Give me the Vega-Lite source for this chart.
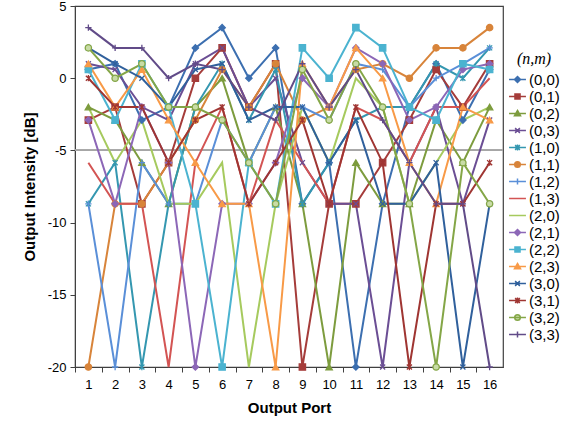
{
  "$schema": "https://vega.github.io/schema/vega-lite/v6.json",
  "width": 428,
  "height": 361,
  "autosize": {"type": "none"},
  "padding": {"left": 75, "top": 6, "right": 74, "bottom": 61},
  "background": "white",
  "config": {
    "font": "Liberation Sans",
    "view": {"stroke": "#404040", "strokeWidth": 1.2},
    "axis": {"domainColor": "#404040", "tickColor": "#404040", "labelColor": "#000", "titleColor": "#000", "labelFontSize": 13, "titleFontSize": 15, "titleFontWeight": "bold", "grid": false}
  },
  "data": {"values": [
{"s":"(0,0)","p":1,"v":0.6},{"s":"(0,0)","p":2,"v":1.0},{"s":"(0,0)","p":3,"v":-2.9},{"s":"(0,0)","p":4,"v":-2.0},{"s":"(0,0)","p":5,"v":2.1},{"s":"(0,0)","p":6,"v":3.5},{"s":"(0,0)","p":7,"v":0},{"s":"(0,0)","p":8,"v":2.1},{"s":"(0,0)","p":9,"v":-8.7},{"s":"(0,0)","p":10,"v":-5.85},{"s":"(0,0)","p":11,"v":-20},{"s":"(0,0)","p":12,"v":-8.7},{"s":"(0,0)","p":13,"v":-2.0},{"s":"(0,0)","p":14,"v":1.0},{"s":"(0,0)","p":15,"v":-2.9},{"s":"(0,0)","p":16,"v":0.6},
{"s":"(0,1)","p":1,"v":-2.9},{"s":"(0,1)","p":2,"v":-2.0},{"s":"(0,1)","p":3,"v":-8.7},{"s":"(0,1)","p":4,"v":-5.85},{"s":"(0,1)","p":5,"v":0},{"s":"(0,1)","p":6,"v":2.1},{"s":"(0,1)","p":7,"v":-2.0},{"s":"(0,1)","p":8,"v":1.0},{"s":"(0,1)","p":9,"v":-20},{"s":"(0,1)","p":10,"v":-8.7},{"s":"(0,1)","p":11,"v":-8.7},{"s":"(0,1)","p":12,"v":-5.85},{"s":"(0,1)","p":13,"v":-2.9},{"s":"(0,1)","p":14,"v":0.6},{"s":"(0,1)","p":15,"v":-2.0},{"s":"(0,1)","p":16,"v":1.0},
{"s":"(0,2)","p":1,"v":-2.0},{"s":"(0,2)","p":2,"v":-2.9},{"s":"(0,2)","p":3,"v":-5.85},{"s":"(0,2)","p":4,"v":-8.7},{"s":"(0,2)","p":5,"v":-2.0},{"s":"(0,2)","p":6,"v":0},{"s":"(0,2)","p":7,"v":-5.85},{"s":"(0,2)","p":8,"v":-2.0},{"s":"(0,2)","p":9,"v":-8.7},{"s":"(0,2)","p":10,"v":-20},{"s":"(0,2)","p":11,"v":-5.85},{"s":"(0,2)","p":12,"v":-8.7},{"s":"(0,2)","p":13,"v":-8.7},{"s":"(0,2)","p":14,"v":-2.9},{"s":"(0,2)","p":15,"v":-5.85},{"s":"(0,2)","p":16,"v":-2.0},
{"s":"(0,3)","p":1,"v":1.0},{"s":"(0,3)","p":2,"v":0.6},{"s":"(0,3)","p":3,"v":-2.0},{"s":"(0,3)","p":4,"v":-2.9},{"s":"(0,3)","p":5,"v":1.0},{"s":"(0,3)","p":6,"v":2.1},{"s":"(0,3)","p":7,"v":-2.0},{"s":"(0,3)","p":8,"v":0},{"s":"(0,3)","p":9,"v":-5.85},{"s":"(0,3)","p":10,"v":-8.7},{"s":"(0,3)","p":11,"v":-8.7},{"s":"(0,3)","p":12,"v":-20},{"s":"(0,3)","p":13,"v":-5.85},{"s":"(0,3)","p":14,"v":-2.0},{"s":"(0,3)","p":15,"v":-8.7},{"s":"(0,3)","p":16,"v":-2.9},
{"s":"(1,0)","p":1,"v":-8.7},{"s":"(1,0)","p":2,"v":-5.85},{"s":"(1,0)","p":3,"v":-20},{"s":"(1,0)","p":4,"v":-8.7},{"s":"(1,0)","p":5,"v":-2.0},{"s":"(1,0)","p":6,"v":1.0},{"s":"(1,0)","p":7,"v":-2.9},{"s":"(1,0)","p":8,"v":0.6},{"s":"(1,0)","p":9,"v":-8.7},{"s":"(1,0)","p":10,"v":-5.85},{"s":"(1,0)","p":11,"v":-2.9},{"s":"(1,0)","p":12,"v":-2.0},{"s":"(1,0)","p":13,"v":-2.0},{"s":"(1,0)","p":14,"v":1.0},{"s":"(1,0)","p":15,"v":0},{"s":"(1,0)","p":16,"v":2.1},
{"s":"(1,1)","p":1,"v":-20},{"s":"(1,1)","p":2,"v":-8.7},{"s":"(1,1)","p":3,"v":-8.7},{"s":"(1,1)","p":4,"v":-5.85},{"s":"(1,1)","p":5,"v":-2.9},{"s":"(1,1)","p":6,"v":0.6},{"s":"(1,1)","p":7,"v":-2.0},{"s":"(1,1)","p":8,"v":1.0},{"s":"(1,1)","p":9,"v":-2.9},{"s":"(1,1)","p":10,"v":-2.0},{"s":"(1,1)","p":11,"v":0.6},{"s":"(1,1)","p":12,"v":1.0},{"s":"(1,1)","p":13,"v":0},{"s":"(1,1)","p":14,"v":2.1},{"s":"(1,1)","p":15,"v":2.1},{"s":"(1,1)","p":16,"v":3.5},
{"s":"(1,2)","p":1,"v":-8.7},{"s":"(1,2)","p":2,"v":-20},{"s":"(1,2)","p":3,"v":-5.85},{"s":"(1,2)","p":4,"v":-8.7},{"s":"(1,2)","p":5,"v":-8.7},{"s":"(1,2)","p":6,"v":-2.9},{"s":"(1,2)","p":7,"v":-5.85},{"s":"(1,2)","p":8,"v":-2.0},{"s":"(1,2)","p":9,"v":-2.0},{"s":"(1,2)","p":10,"v":-2.9},{"s":"(1,2)","p":11,"v":1.0},{"s":"(1,2)","p":12,"v":0.6},{"s":"(1,2)","p":13,"v":-2.0},{"s":"(1,2)","p":14,"v":0},{"s":"(1,2)","p":15,"v":1.0},{"s":"(1,2)","p":16,"v":2.1},
{"s":"(1,3)","p":1,"v":-5.85},{"s":"(1,3)","p":2,"v":-8.7},{"s":"(1,3)","p":3,"v":-8.7},{"s":"(1,3)","p":4,"v":-20},{"s":"(1,3)","p":5,"v":-5.85},{"s":"(1,3)","p":6,"v":-2.0},{"s":"(1,3)","p":7,"v":-8.7},{"s":"(1,3)","p":8,"v":-2.9},{"s":"(1,3)","p":9,"v":-5.85},{"s":"(1,3)","p":10,"v":-8.7},{"s":"(1,3)","p":11,"v":-2.0},{"s":"(1,3)","p":12,"v":-2.9},{"s":"(1,3)","p":13,"v":-5.85},{"s":"(1,3)","p":14,"v":-2.0},{"s":"(1,3)","p":15,"v":-2.0},{"s":"(1,3)","p":16,"v":0},
{"s":"(2,0)","p":1,"v":-2.0},{"s":"(2,0)","p":2,"v":-5.85},{"s":"(2,0)","p":3,"v":-2.9},{"s":"(2,0)","p":4,"v":-8.7},{"s":"(2,0)","p":5,"v":-8.7},{"s":"(2,0)","p":6,"v":-5.85},{"s":"(2,0)","p":7,"v":-20},{"s":"(2,0)","p":8,"v":-8.7},{"s":"(2,0)","p":9,"v":-2.0},{"s":"(2,0)","p":10,"v":-5.85},{"s":"(2,0)","p":11,"v":0},{"s":"(2,0)","p":12,"v":-2.0},{"s":"(2,0)","p":13,"v":-8.7},{"s":"(2,0)","p":14,"v":-5.85},{"s":"(2,0)","p":15,"v":-2.9},{"s":"(2,0)","p":16,"v":-2.0},
{"s":"(2,1)","p":1,"v":-2.9},{"s":"(2,1)","p":2,"v":-8.7},{"s":"(2,1)","p":3,"v":-2.0},{"s":"(2,1)","p":4,"v":-5.85},{"s":"(2,1)","p":5,"v":-20},{"s":"(2,1)","p":6,"v":-8.7},{"s":"(2,1)","p":7,"v":-8.7},{"s":"(2,1)","p":8,"v":-5.85},{"s":"(2,1)","p":9,"v":0},{"s":"(2,1)","p":10,"v":-2.0},{"s":"(2,1)","p":11,"v":2.1},{"s":"(2,1)","p":12,"v":1.0},{"s":"(2,1)","p":13,"v":-2.9},{"s":"(2,1)","p":14,"v":-2.0},{"s":"(2,1)","p":15,"v":0.6},{"s":"(2,1)","p":16,"v":1.0},
{"s":"(2,2)","p":1,"v":0.6},{"s":"(2,2)","p":2,"v":-2.9},{"s":"(2,2)","p":3,"v":1.0},{"s":"(2,2)","p":4,"v":-2.0},{"s":"(2,2)","p":5,"v":-8.7},{"s":"(2,2)","p":6,"v":-20},{"s":"(2,2)","p":7,"v":-5.85},{"s":"(2,2)","p":8,"v":-8.7},{"s":"(2,2)","p":9,"v":2.1},{"s":"(2,2)","p":10,"v":0},{"s":"(2,2)","p":11,"v":3.5},{"s":"(2,2)","p":12,"v":2.1},{"s":"(2,2)","p":13,"v":-2.0},{"s":"(2,2)","p":14,"v":-2.9},{"s":"(2,2)","p":15,"v":1.0},{"s":"(2,2)","p":16,"v":0.6},
{"s":"(2,3)","p":1,"v":1.0},{"s":"(2,3)","p":2,"v":-2.0},{"s":"(2,3)","p":3,"v":0.6},{"s":"(2,3)","p":4,"v":-2.9},{"s":"(2,3)","p":5,"v":-5.85},{"s":"(2,3)","p":6,"v":-8.7},{"s":"(2,3)","p":7,"v":-8.7},{"s":"(2,3)","p":8,"v":-20},{"s":"(2,3)","p":9,"v":1.0},{"s":"(2,3)","p":10,"v":-2.0},{"s":"(2,3)","p":11,"v":2.1},{"s":"(2,3)","p":12,"v":0},{"s":"(2,3)","p":13,"v":-5.85},{"s":"(2,3)","p":14,"v":-8.7},{"s":"(2,3)","p":15,"v":-2.0},{"s":"(2,3)","p":16,"v":-2.9},
{"s":"(3,0)","p":1,"v":2.1},{"s":"(3,0)","p":2,"v":1.0},{"s":"(3,0)","p":3,"v":0},{"s":"(3,0)","p":4,"v":-2.0},{"s":"(3,0)","p":5,"v":0.6},{"s":"(3,0)","p":6,"v":1.0},{"s":"(3,0)","p":7,"v":-2.9},{"s":"(3,0)","p":8,"v":-2.0},{"s":"(3,0)","p":9,"v":-2.0},{"s":"(3,0)","p":10,"v":-5.85},{"s":"(3,0)","p":11,"v":-2.9},{"s":"(3,0)","p":12,"v":-8.7},{"s":"(3,0)","p":13,"v":-8.7},{"s":"(3,0)","p":14,"v":-5.85},{"s":"(3,0)","p":15,"v":-20},{"s":"(3,0)","p":16,"v":-8.7},
{"s":"(3,1)","p":1,"v":0},{"s":"(3,1)","p":2,"v":-2.0},{"s":"(3,1)","p":3,"v":-2.0},{"s":"(3,1)","p":4,"v":-5.85},{"s":"(3,1)","p":5,"v":-2.9},{"s":"(3,1)","p":6,"v":-2.0},{"s":"(3,1)","p":7,"v":-8.7},{"s":"(3,1)","p":8,"v":-5.85},{"s":"(3,1)","p":9,"v":-2.9},{"s":"(3,1)","p":10,"v":-8.7},{"s":"(3,1)","p":11,"v":-2.0},{"s":"(3,1)","p":12,"v":-5.85},{"s":"(3,1)","p":13,"v":-20},{"s":"(3,1)","p":14,"v":-8.7},{"s":"(3,1)","p":15,"v":-8.7},{"s":"(3,1)","p":16,"v":-5.85},
{"s":"(3,2)","p":1,"v":2.1},{"s":"(3,2)","p":2,"v":0},{"s":"(3,2)","p":3,"v":1.0},{"s":"(3,2)","p":4,"v":-2.0},{"s":"(3,2)","p":5,"v":-2.0},{"s":"(3,2)","p":6,"v":-2.9},{"s":"(3,2)","p":7,"v":-5.85},{"s":"(3,2)","p":8,"v":-8.7},{"s":"(3,2)","p":9,"v":0.6},{"s":"(3,2)","p":10,"v":-2.9},{"s":"(3,2)","p":11,"v":1.0},{"s":"(3,2)","p":12,"v":-2.0},{"s":"(3,2)","p":13,"v":-8.7},{"s":"(3,2)","p":14,"v":-20},{"s":"(3,2)","p":15,"v":-5.85},{"s":"(3,2)","p":16,"v":-8.7},
{"s":"(3,3)","p":1,"v":3.5},{"s":"(3,3)","p":2,"v":2.1},{"s":"(3,3)","p":3,"v":2.1},{"s":"(3,3)","p":4,"v":0},{"s":"(3,3)","p":5,"v":1.0},{"s":"(3,3)","p":6,"v":0.6},{"s":"(3,3)","p":7,"v":-2.0},{"s":"(3,3)","p":8,"v":-2.9},{"s":"(3,3)","p":9,"v":1.0},{"s":"(3,3)","p":10,"v":-2.0},{"s":"(3,3)","p":11,"v":0.6},{"s":"(3,3)","p":12,"v":-2.9},{"s":"(3,3)","p":13,"v":-5.85},{"s":"(3,3)","p":14,"v":-8.7},{"s":"(3,3)","p":15,"v":-8.7},{"s":"(3,3)","p":16,"v":-20}
  ]},
  "encoding": {
    "x": {"field": "p", "type": "quantitative", "scale": {"domain": [0.5, 16.5], "nice": false, "zero": false},
      "axis": {"title": "Output Port", "values": [1,2,3,4,5,6,7,8,9,10,11,12,13,14,15,16], "tickOffset": -13.375, "labelOffset": 13.375, "tickSize": 5, "labelPadding": 6, "titlePadding": 9, "labelFlush": false}},
    "y": {"field": "v", "type": "quantitative", "scale": {"domain": [-20, 5], "nice": false},
      "axis": {"title": "Output Intensity [dB]", "values": [5,0,-5,-10,-15,-20], "tickSize": 5, "labelPadding": 4, "titlePadding": 10, "labelFlush": false, "labelExpr": "datum.value < 0 ? '-' + abs(datum.value) : '' + datum.value"}}
  },
  "layer": [
    {"mark": {"type": "rule", "color": "#a6a6a6", "strokeWidth": 1}, "encoding": {"y": {"datum": -5}, "x": {"datum": 0.5}, "x2": {"datum": 16.5}}},
    {"mark": {"type": "line", "strokeWidth": 2},
      "encoding": {"stroke": {"field": "s", "type": "nominal", "legend": null,
        "scale": {"domain": ["(0,0)","(0,1)","(0,2)","(0,3)","(1,0)","(1,1)","(1,2)","(1,3)","(2,0)","(2,1)","(2,2)","(2,3)","(3,0)","(3,1)","(3,2)","(3,3)"],
          "range": ["#3c6fb0","#a53c3a","#7d9c3e","#6b4e94","#3497b0","#d8843a","#5a8fd8","#d35453","#a6ca5e","#8c67b7","#4bb3d0","#f89a47","#30609c","#9f3532","#84a647","#614b88"]}}}},
    {"mark": {"type": "point", "filled": true, "opacity": 1, "size": 40, "strokeWidth": 1.3},
      "transform": [{"filter": "datum.s != '(1,3)' && datum.s != '(2,0)'"}],
      "encoding": {
        "fill": {"field": "s", "type": "nominal", "legend": null,
          "scale": {"domain": ["(0,0)","(0,1)","(0,2)","(0,3)","(1,0)","(1,1)","(1,2)","(1,3)","(2,0)","(2,1)","(2,2)","(2,3)","(3,0)","(3,1)","(3,2)","(3,3)"],
            "range": ["#3c6fb0","#a53c3a","#7d9c3e","#6b4e94","#3497b0","#d8843a","#5a8fd8","#d35453","#a6ca5e","#8c67b7","#4bb3d0","#f89a47","#30609c","#9f3532","#c8dca6","#614b88"]}},
        "stroke": {"field": "s", "type": "nominal", "legend": null,
          "scale": {"domain": ["(0,0)","(0,1)","(0,2)","(0,3)","(1,0)","(1,1)","(1,2)","(1,3)","(2,0)","(2,1)","(2,2)","(2,3)","(3,0)","(3,1)","(3,2)","(3,3)"],
            "range": ["#3c6fb0","#a53c3a","#7d9c3e","#6b4e94","#3497b0","#d8843a","#5a8fd8","#d35453","#a6ca5e","#8c67b7","#4bb3d0","#f89a47","#30609c","#9f3532","#84a647","#614b88"]}},
        "shape": {"field": "s", "type": "nominal", "legend": null,
          "scale": {"domain": ["(0,0)","(0,1)","(0,2)","(0,3)","(1,0)","(1,1)","(1,2)","(1,3)","(2,0)","(2,1)","(2,2)","(2,3)","(3,0)","(3,1)","(3,2)","(3,3)"],
            "range": ["diamond","square","triangle-up","M-0.8,-0.8L0.8,0.8M-0.8,0.8L0.8,-0.8","M-0.8,-0.8L0.8,0.8M-0.8,0.8L0.8,-0.8M0,-1L0,1","circle","M-1,0L1,0M0,-1L0,1","M0,0","M0,0","diamond","square","triangle-up","M-0.8,-0.8L0.8,0.8M-0.8,0.8L0.8,-0.8","M-0.8,-0.8L0.8,0.8M-0.8,0.8L0.8,-0.8M0,-1L0,1","circle","M-1,0L1,0M0,-1L0,1"]}}
      }},
    {"mark": {"type": "point", "filled": true, "opacity": 1, "size": 289, "strokeWidth": 1.5},
      "transform": [{"filter": "false"}],
      "encoding": {
        "fill": {"field": "s", "type": "nominal", "title": "(n,m)",
          "scale": {"domain": ["(0,0)","(0,1)","(0,2)","(0,3)","(1,0)","(1,1)","(1,2)","(1,3)","(2,0)","(2,1)","(2,2)","(2,3)","(3,0)","(3,1)","(3,2)","(3,3)"],
            "range": ["#3c6fb0","#a53c3a","#7d9c3e","#6b4e94","#3497b0","#d8843a","#5a8fd8","#d35453","#a6ca5e","#8c67b7","#4bb3d0","#f89a47","#30609c","#9f3532","#c8dca6","#614b88"]},
          "legend": {"orient": "none", "legendX": 433, "legendY": 45, "titleFont": "Liberation Serif", "titleFontStyle": "italic", "titleFontWeight": "normal", "titleFontSize": 16, "titleAnchor": "middle", "titlePadding": 4, "labelFontSize": 15, "labelOffset": 2, "symbolSize": 285, "symbolStrokeWidth": 1.5, "rowPadding": 0, "clipHeight": 17}},
        "stroke": {"field": "s", "type": "nominal", "title": "(n,m)",
          "scale": {"domain": ["(0,0)","(0,1)","(0,2)","(0,3)","(1,0)","(1,1)","(1,2)","(1,3)","(2,0)","(2,1)","(2,2)","(2,3)","(3,0)","(3,1)","(3,2)","(3,3)"],
            "range": ["#3c6fb0","#a53c3a","#7d9c3e","#6b4e94","#3497b0","#d8843a","#5a8fd8","#d35453","#a6ca5e","#8c67b7","#4bb3d0","#f89a47","#30609c","#9f3532","#84a647","#614b88"]},
          "legend": {"orient": "none", "legendX": 433, "legendY": 45, "titleFont": "Liberation Serif", "titleFontStyle": "italic", "titleFontWeight": "normal", "titleFontSize": 16, "titleAnchor": "middle", "titlePadding": 4, "labelFontSize": 15, "labelOffset": 2, "symbolSize": 285, "symbolStrokeWidth": 1.5, "rowPadding": 0, "clipHeight": 17}},
        "shape": {"field": "s", "type": "nominal", "title": "(n,m)",
          "scale": {"domain": ["(0,0)","(0,1)","(0,2)","(0,3)","(1,0)","(1,1)","(1,2)","(1,3)","(2,0)","(2,1)","(2,2)","(2,3)","(3,0)","(3,1)","(3,2)","(3,3)"],
            "range": ["M-1,0L1,0M0,-0.36L0.36,0L0,0.36L-0.36,0Z","M-1,0L1,0M-0.3,-0.3L0.3,-0.3L0.3,0.3L-0.3,0.3Z","M-1,0L1,0M0,-0.36L0.36,0.28L-0.36,0.28Z","M-1,0L1,0M-0.28,-0.28L0.28,0.28M-0.28,0.28L0.28,-0.28","M-1,0L1,0M-0.28,-0.28L0.28,0.28M-0.28,0.28L0.28,-0.28M0,-0.36L0,0.36","M-1,0L1,0M0.33,0A0.33,0.33,0,1,1,-0.33,0A0.33,0.33,0,1,1,0.33,0Z","M-1,0L1,0M0,-0.36L0,0.36","M-1,0L1,0","M-1,0L1,0","M-1,0L1,0M0,-0.36L0.36,0L0,0.36L-0.36,0Z","M-1,0L1,0M-0.3,-0.3L0.3,-0.3L0.3,0.3L-0.3,0.3Z","M-1,0L1,0M0,-0.36L0.36,0.28L-0.36,0.28Z","M-1,0L1,0M-0.28,-0.28L0.28,0.28M-0.28,0.28L0.28,-0.28","M-1,0L1,0M-0.28,-0.28L0.28,0.28M-0.28,0.28L0.28,-0.28M0,-0.36L0,0.36","M-1,0L1,0M0.33,0A0.33,0.33,0,1,1,-0.33,0A0.33,0.33,0,1,1,0.33,0Z","M-1,0L1,0M0,-0.36L0,0.36"]},
          "legend": {"orient": "none", "legendX": 433, "legendY": 45, "titleFont": "Liberation Serif", "titleFontStyle": "italic", "titleFontWeight": "normal", "titleFontSize": 16, "titleAnchor": "middle", "titlePadding": 4, "labelFontSize": 15, "labelOffset": 2, "symbolSize": 285, "symbolStrokeWidth": 1.5, "rowPadding": 0, "clipHeight": 17}}
      }}
  ],
  "resolve": {"scale": {"fill": "independent", "stroke": "independent", "shape": "independent"}}
}
